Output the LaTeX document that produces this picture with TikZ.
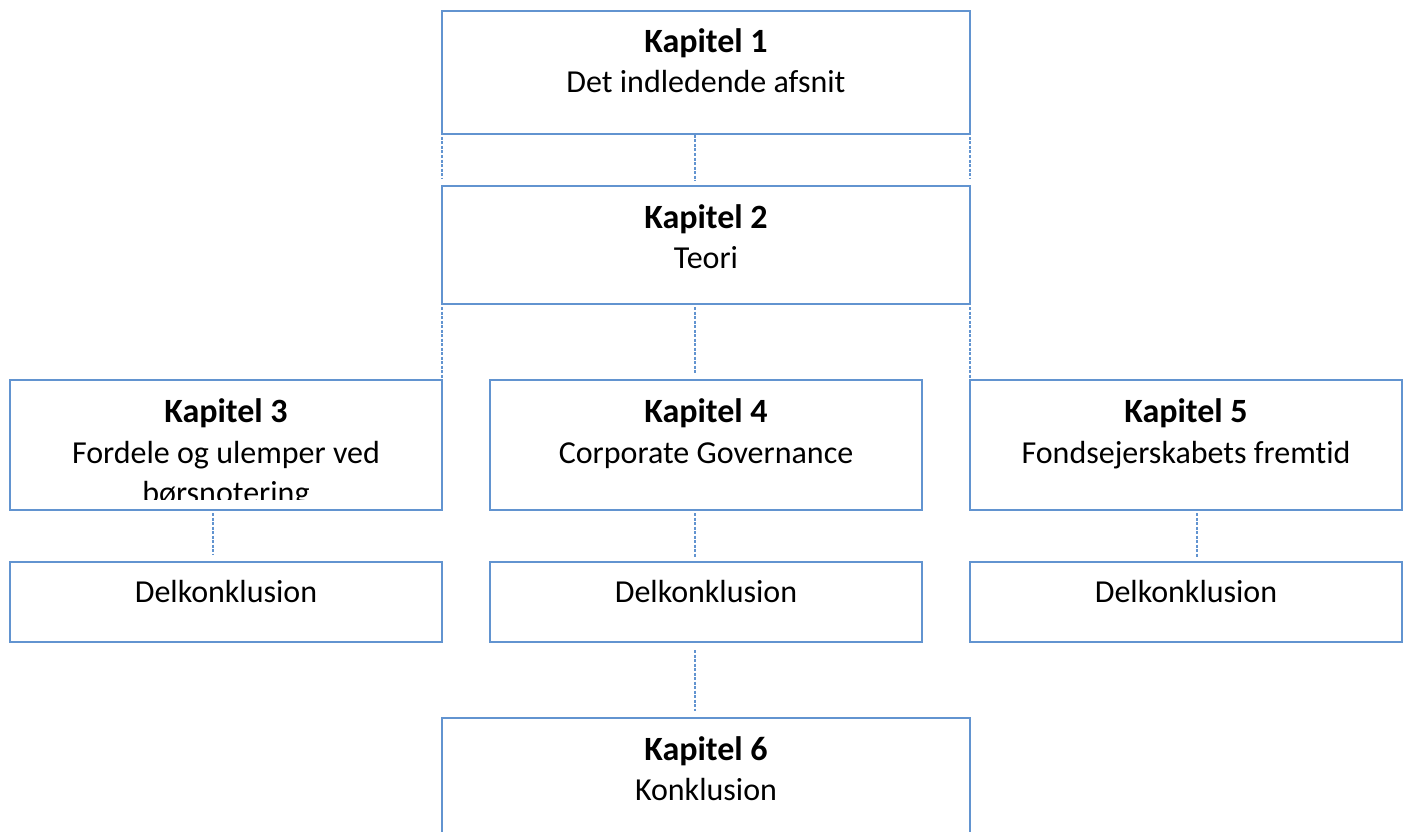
\documentclass[tikz,border=0pt]{standalone}
\usepackage{fontspec}
\setmainfont[Ligatures=NoCommon]{Carlito}
\definecolor{boxblue}{RGB}{98,148,208}
\tikzset{
  box/.style={draw=boxblue, line width=2pt, fill=white, rectangle, inner sep=0pt, outer sep=0pt, anchor=north west},
  conn/.style={draw=boxblue, line width=1.3pt, dash pattern=on 3pt off 1.5pt},
  ttl/.style={anchor=base, inner sep=0pt, font=\fontsize{34}{40}\selectfont\bfseries},
  sub/.style={anchor=base, inner sep=0pt, font=\fontsize{32}{40}\selectfont},
}
\begin{document}
\begin{tikzpicture}[x=1pt,y=-1pt]
\useasboundingbox (0,0) rectangle (1408,832);
% boxes
\node[box, minimum width=528pt, minimum height=123pt] (b1) at (442,11) {};
\node[box, minimum width=528pt, minimum height=118pt] (b2) at (442,186) {};
\node[box, minimum width=432pt, minimum height=130pt] (b3) at (10,380) {};
\node[box, minimum width=432pt, minimum height=130pt] (b4) at (490,380) {};
\node[box, minimum width=432pt, minimum height=130pt] (b5) at (970,380) {};
\node[box, minimum width=432pt, minimum height=80pt] (d3) at (10,562) {};
\node[box, minimum width=432pt, minimum height=80pt] (d4) at (490,562) {};
\node[box, minimum width=432pt, minimum height=80pt] (d5) at (970,562) {};
\node[box, minimum width=528pt, minimum height=140pt] (b6) at (442,718) {};
% dotted connectors
\draw[conn] ([yshift=-3pt]b1.south west) -- ([yshift=7pt]b2.north west);
\draw[conn] ([yshift=-3pt]b1.south east) -- ([yshift=7pt]b2.north east);
\draw[conn] ([xshift=-11pt,yshift=-1pt]b1.south) -- ([xshift=-11pt,yshift=5pt]b2.north);
\draw[conn] ([yshift=-3pt]b2.south west) -- ([yshift=1pt]b3.north east);
\draw[conn] ([yshift=-3pt]b2.south east) -- ([yshift=1pt]b5.north west);
\draw[conn] ([xshift=-11pt,yshift=-3pt]b2.south) -- ([xshift=-11pt,yshift=7pt]b4.north);
\draw[conn] ([xshift=-13pt,yshift=-3pt]b3.south) -- ([xshift=-13pt,yshift=7pt]d3.north);
\draw[conn] ([xshift=-11pt,yshift=-3pt]b4.south) -- ([xshift=-11pt,yshift=5pt]d4.north);
\draw[conn] ([xshift=11pt,yshift=-3pt]b5.south) -- ([xshift=11pt,yshift=5pt]d5.north);
\draw[conn] ([xshift=-11pt,yshift=-8pt]d4.south) -- ([xshift=-11pt,yshift=7pt]b6.north);
% texts
\node[ttl] (t1) at (706,53) {Kapitel 1};
\node[sub] (s1) at (706,93) {Det indledende afsnit};
\node[ttl] (t2) at (706,228) {Kapitel 2};
\node[sub] (s2) at (706,268) {Teori};
\node[ttl] (t3) at (226,422) {Kapitel 3};
\node[sub] (s3) at (226,463) {Fordele og ulemper ved};
\begin{scope}
\clip (10,470) rectangle (442,499);
\node[sub] (s3b) at (226,503) {børsnotering};
\end{scope}
\node[ttl] (t4) at (706,422) {Kapitel 4};
\node[sub] (s4) at (706,463) {Corporate Governance};
\node[ttl] (t5) at (1186,422) {Kapitel 5};
\node[sub] (s5) at (1186,463) {Fondsejerskabets fremtid};
\node[sub] (e3) at (226,602) {Delkonklusion};
\node[sub] (e4) at (706,602) {Delkonklusion};
\node[sub] (e5) at (1186,602) {Delkonklusion};
\node[ttl] (t6) at (706,760) {Kapitel 6};
\node[sub] (s6) at (706,800) {Konklusion};
\end{tikzpicture}
\end{document}
